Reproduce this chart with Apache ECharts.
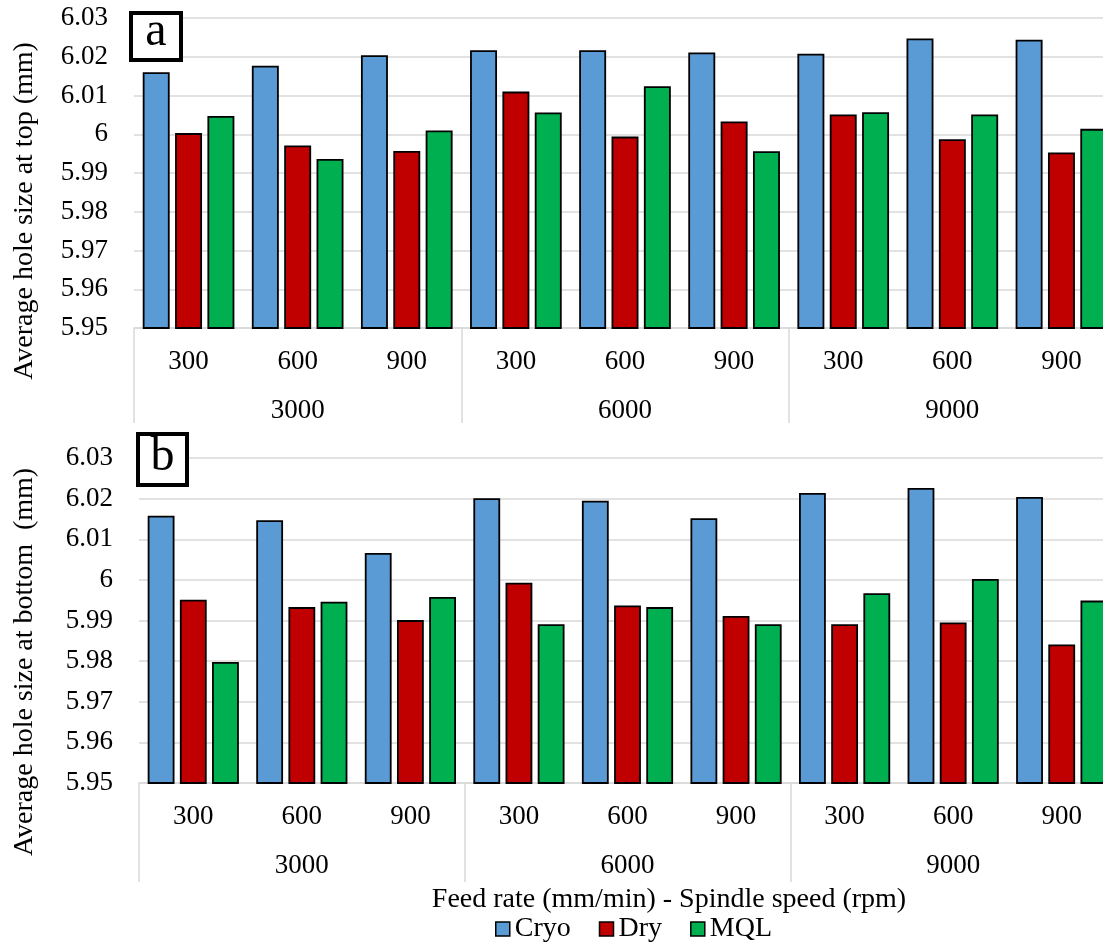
<!DOCTYPE html>
<html>
<head>
<meta charset="utf-8">
<script src="https://cdn.jsdelivr.net/npm/echarts@6/dist/echarts.min.js"></script>
<style>
  html, body { margin: 0; padding: 0; overflow: hidden; background: #fff; }
  #chart { width: 1140px; height: 943px; }
</style>
</head>
<body>
<div id="chart"></div>
<script>
// Outer and inner category levels
const spindleSpeeds = ['3000', '6000', '9000'];
const feedRates = ['300', '600', '900'];
const seriesNames = ['Cryo', 'Dry', 'MQL'];

// Value axis range (mm)
const yMin = 5.95;
const yMax = 6.03;
const yStep = 0.01;

// (a) average hole size at top, order: 3000/300 ... 9000/900
const topCryo = [6.0160, 6.0177, 6.0204, 6.0217, 6.0217, 6.0211, 6.0208, 6.0247, 6.0244];
const topDry  = [6.0003, 5.9971, 5.9957, 6.0110, 5.9994, 6.0033, 6.0051, 5.9987, 5.9953];
const topMql  = [6.0047, 5.9936, 6.0010, 6.0056, 6.0124, 5.9956, 6.0057, 6.0051, 6.0014];

// (b) average hole size at bottom
const botCryo = [6.0158, 6.0147, 6.0066, 6.0201, 6.0195, 6.0152, 6.0214, 6.0226, 6.0204];
const botDry  = [5.9951, 5.9933, 5.9901, 5.9993, 5.9937, 5.9911, 5.9891, 5.9895, 5.9841];
const botMql  = [5.9798, 5.9946, 5.9958, 5.9891, 5.9933, 5.9891, 5.9967, 6.0002, 5.9949];

const colors = ['#5B9BD5', '#C00000', '#00B050'];
const FONT = '"Liberation Serif", "Times New Roman", serif';
const GRID_GRAY = '#d9d9d9';

const categoryKeys = spindleSpeeds.flatMap(s => feedRates.map(f => s + '|' + f));

function feedAxis(gridIndex) {
  return {
    type: 'category', gridIndex, position: 'bottom',
    data: categoryKeys,
    axisLine: { show: true, lineStyle: { color: GRID_GRAY, width: 1.5 } },
    axisTick: { show: false },
    axisLabel: {
      interval: 0, margin: 20,
      formatter: v => v.split('|')[1],
      fontFamily: FONT, fontSize: 27, color: '#000'
    }
  };
}

function speedAxis(gridIndex, tickLen) {
  return {
    type: 'category', gridIndex, position: 'bottom', offset: 0,
    data: spindleSpeeds,
    axisLine: { show: false },
    axisTick: { show: true, interval: 0, length: tickLen, lineStyle: { color: GRID_GRAY, width: 1.5 } },
    axisLabel: { interval: 0, margin: 69, fontFamily: FONT, fontSize: 27, color: '#000' },
    splitLine: { show: false }
  };
}

function valueAxis(gridIndex) {
  return {
    type: 'value', gridIndex,
    min: yMin, max: yMax, interval: yStep,
    axisLine: { show: false },
    axisTick: { show: false },
    axisLabel: {
      margin: 26, fontFamily: FONT, fontSize: 27, color: '#000',
      formatter: v => String(parseFloat(v.toFixed(2)))
    },
    splitLine: { show: true, lineStyle: { color: GRID_GRAY, width: 1.5 } }
  };
}

function barSeries(name, data, xIdx, yIdx, color) {
  return {
    type: 'bar', name, data,
    xAxisIndex: xIdx, yAxisIndex: yIdx,
    barCategoryGap: '16%', barGap: '20%',
    itemStyle: { color, borderColor: '#000', borderWidth: 1.8 },
    animation: false
  };
}

function textEl(text, x, y, size, rotation) {
  return {
    type: 'text', x, y, rotation: rotation || 0, z: 100,
    style: {
      text, fill: '#000',
      font: size + 'px ' + FONT,
      fontSize: size, fontFamily: FONT,
      align: 'center', verticalAlign: 'middle',
      textAlign: 'center', textVerticalAlign: 'middle'
    }
  };
}

function panelTag(letter, x, y, w, h, ty) {
  return [
    { type: 'rect', z: 100, shape: { x, y, width: w, height: h },
      style: { fill: '#fff', stroke: '#000', lineWidth: 4 } },
    textEl(letter, x + w / 2, ty, 48)
  ];
}

const option = {
  backgroundColor: '#fff',
  animation: false,
  grid: [
    { left: 134, top: 18, width: 982, height: 310 },
    { left: 139, top: 458, width: 977, height: 325 }
  ],
  xAxis: [feedAxis(0), speedAxis(0, 95), feedAxis(1), speedAxis(1, 99)],
  yAxis: [valueAxis(0), valueAxis(1)],
  legend: {
    data: seriesNames,
    left: 490, top: 910,
    icon: 'rect', itemWidth: 14, itemHeight: 14, itemGap: 28,
    itemStyle: { borderColor: '#000', borderWidth: 1.5 },
    textStyle: { fontFamily: FONT, fontSize: 28, color: '#000' }
  },
  graphic: [
    textEl('Average hole size at top (mm)', 25, 211, 28, Math.PI / 2),
    textEl('Average hole size at bottom  (mm)', 25, 662, 28, Math.PI / 2),
    textEl('Feed rate (mm/min) - Spindle speed (rpm)', 669, 900, 28),
    ...panelTag('a', 131, 13, 50, 47, 32),
    ...panelTag('b', 138, 434, 49, 51, 457)
  ],
  series: [
    barSeries(seriesNames[0], topCryo, 0, 0, colors[0]),
    barSeries(seriesNames[1], topDry, 0, 0, colors[1]),
    barSeries(seriesNames[2], topMql, 0, 0, colors[2]),
    barSeries(seriesNames[0], botCryo, 2, 1, colors[0]),
    barSeries(seriesNames[1], botDry, 2, 1, colors[1]),
    barSeries(seriesNames[2], botMql, 2, 1, colors[2])
  ]
};

const chart = echarts.init(document.getElementById('chart'), null, { renderer: 'canvas' });
chart.setOption(option);
</script>
</body>
</html>
